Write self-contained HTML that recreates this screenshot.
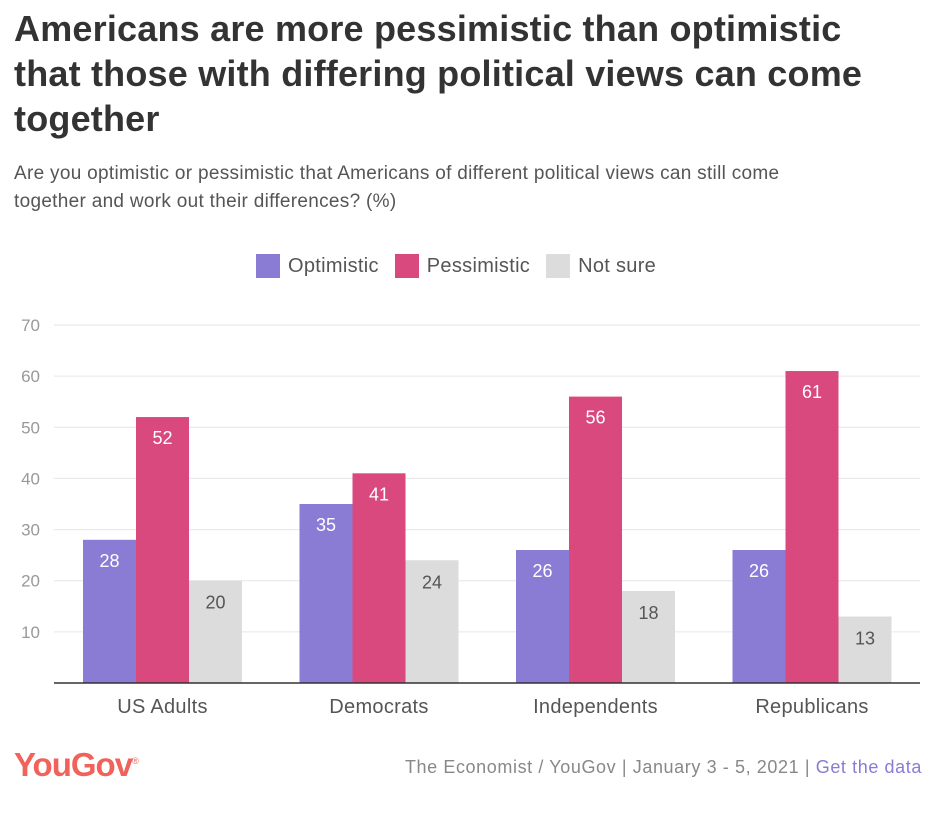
<!DOCTYPE html>
<html><head><meta charset="utf-8"><style>
body{margin:0;width:941px;height:815px;background:#fff;font-family:"Liberation Sans",sans-serif;position:relative;overflow:hidden}
h1{position:absolute;left:14px;top:6px;margin:0;font-size:36px;line-height:45px;font-weight:bold;color:#333;width:885px;letter-spacing:0.2px}
.sub{position:absolute;left:14px;top:160px;font-size:19px;line-height:28px;color:#555;width:840px;letter-spacing:0.3px}
.legend{position:absolute;top:254px;left:256px;font-size:20px;color:#555;display:flex;gap:16px;letter-spacing:0.3px}
.legend span{display:flex;align-items:center}
.legend i{display:inline-block;width:24px;height:24px;margin-right:8px}
.logo{position:absolute;left:14px;top:746px;font-size:33px;font-weight:bold;color:#f0625a;letter-spacing:-1px}
.src{position:absolute;right:19px;top:757px;font-size:18px;color:#888;letter-spacing:0.6px}
</style></head><body>
<h1>Americans are more pessimistic than optimistic that those with differing political views can come together</h1>
<div class="sub">Are you optimistic or pessimistic that Americans of different political views can still come together and work out their differences? (%)</div>
<div class="legend">
<span><i style="background:#8a7bd4"></i>Optimistic</span>
<span><i style="background:#d9497d"></i>Pessimistic</span>
<span><i style="background:#dcdcdc"></i>Not sure</span>
</div>
<svg id="chart" width="941" height="815" style="position:absolute;left:0;top:0"></svg>
<div class="logo">YouGov<sup style="font-size:9px;font-weight:normal">®</sup></div>
<div class="src">The Economist / YouGov | January 3 - 5, 2021 | <span style="color:#8a7bd4">Get the data</span></div>
<script>
const categories=["US Adults","Democrats","Independents","Republicans"];
const optimistic=[28,35,26,26];
const pessimistic=[52,41,56,61];
const notSure=[20,24,18,13];
const yTicks=[10,20,30,40,50,60,70];
const NS="http://www.w3.org/2000/svg";
const svg=document.getElementById("chart");
const x0=54,x1=920,y0=683,yScale=v=>y0-v*(358/70);
const band=(x1-x0)/categories.length,bw=53,off=29;
function mk(t,a){const e=document.createElementNS(NS,t);for(const k in a)e.setAttribute(k,a[k]);svg.appendChild(e);return e;}
yTicks.forEach(t=>{
 const l=mk("line",{x1:x0,x2:x1,y1:yScale(t),y2:yScale(t),stroke:"#e6e6e6"});
 
 
 const tx=mk("text",{x:40,y:yScale(t)+6,"text-anchor":"end","font-size":17,fill:"#999"});tx.textContent=t;
 
 
});
const series=[[optimistic,"#8a7bd4","#fff","optimistic"],[pessimistic,"#d9497d","#fff","pessimistic"],[notSure,"#dcdcdc","#555","not-sure"]];
categories.forEach((c,i)=>{
 series.forEach((s,j)=>{
  const v=s[0][i],x=x0+band*i+off+bw*j,y=yScale(v);
  const r=mk("rect",{x:x,y:y,width:bw,height:y0-y,fill:s[1]});
  
  
  const ly=j==2?y+28:y+27;
  const t=mk("text",{x:x+bw/2,y:ly,"text-anchor":"middle","font-size":18,fill:s[2]});t.textContent=v;
  
  
 });
 const ct=mk("text",{x:x0+band*i+off+bw*1.5,y:713,"text-anchor":"middle","font-size":20,fill:"#555","letter-spacing":"0.3"});ct.textContent=c;
 
 
});
const ax=mk("line",{x1:x0,x2:x1,y1:y0,y2:y0,stroke:"#333","stroke-width":1.5});


</script>
</body></html>
